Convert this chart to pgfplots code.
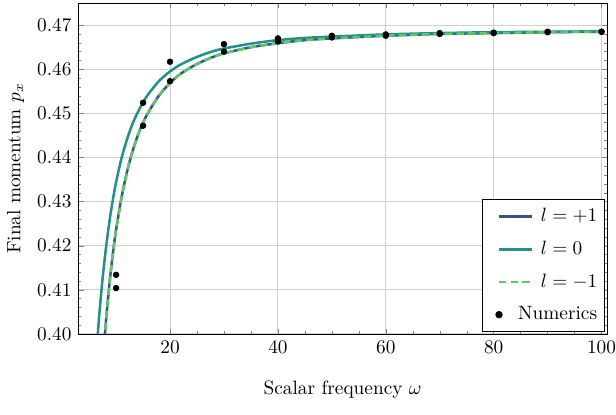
\documentclass[border=0pt]{standalone}
\usepackage{pgfplots}
\pgfplotsset{compat=1.18}
\definecolor{cA}{HTML}{3B528B}
\definecolor{cB}{HTML}{21918C}
\definecolor{cC}{HTML}{5EC962}
\begin{document}
\begin{tikzpicture}
\begin{axis}[name=ax,
  scale only axis, width=274pt, height=171.5pt,
  xmin=3, xmax=101, ymin=0.40, ymax=0.475,
  xtick={20,40,60,80,100}, minor x tick num=3,
  ytick={0.40,0.41,0.42,0.43,0.44,0.45,0.46,0.47}, minor y tick num=4,
  yticklabel style={/pgf/number format/.cd, fixed, precision=2, zerofill},
  scaled y ticks=false,
  tick align=inside, tick pos=both,
  major tick length=2.8pt, minor tick length=1.6pt,
  grid=major, major grid style={line width=0.5pt, draw=black!18},
  xlabel={Scalar frequency $\omega$}, ylabel={Final momentum $p_x$},
  xlabel style={at={(axis description cs:0.5,0)}, anchor=center, yshift=-29pt},
  ylabel style={at={(axis description cs:0,0.5)}, anchor=center, yshift=32.6pt},
  legend style={at={(0.996,0.006)}, anchor=south east, draw=black, line width=0.6pt,
    inner xsep=3.6pt, inner ysep=4.5pt, row sep=8.5pt, column sep=4pt,
    nodes={inner sep=0pt, text depth=0.15em}, fill=white},
  legend cell align=left,
  legend image code/.code={\path (0pt,0pt); \draw[#1] (4.2pt,0pt) -- (21.2pt,0pt);},
]
\addplot[color=cA, line width=1.3pt, smooth] coordinates {
(7.5,0.3931)(8,0.4011)(8.5,0.4080)(9,0.4140)(9.5,0.4191)(10,0.4236)(11,0.4309)(12,0.4366)(13,0.4412)(14,0.4449)(15,0.4479)(16,0.4503)(18,0.4541)(20,0.4569)(22,0.4590)(25,0.4612)(28,0.4628)(30,0.4636)(35,0.4650)(40,0.4659)(45,0.4666)(50,0.4670)(60,0.4676)(70,0.4680)(80,0.4682)(90,0.4684)(100,0.4685)
};
\addlegendentry{$l = +1$}
\addplot[color=cB, line width=1.3pt, smooth] coordinates {
(6.5,0.3984)(7,0.4060)(7.5,0.4126)(8,0.4182)(8.5,0.4231)(9,0.4274)(9.5,0.4311)(10,0.4344)(11,0.4398)(12,0.4440)(13,0.4475)(14,0.4502)(15,0.4525)(16,0.4544)(18,0.4574)(20,0.4595)(22,0.4611)(25,0.4628)(28,0.4641)(30,0.4647)(35,0.4658)(40,0.4666)(45,0.4671)(50,0.4674)(60,0.4679)(70,0.4682)(80,0.4684)(90,0.4685)(100,0.4686)
};
\addlegendentry{$l = 0$}
\addplot[color=cC, line width=1.3pt, smooth, dash pattern=on 3.8pt off 2.2pt] coordinates {
(7.5,0.3931)(8,0.4011)(8.5,0.4080)(9,0.4140)(9.5,0.4191)(10,0.4236)(11,0.4309)(12,0.4366)(13,0.4412)(14,0.4449)(15,0.4479)(16,0.4503)(18,0.4541)(20,0.4569)(22,0.4590)(25,0.4612)(28,0.4628)(30,0.4636)(35,0.4650)(40,0.4659)(45,0.4666)(50,0.4670)(60,0.4676)(70,0.4680)(80,0.4682)(90,0.4684)(100,0.4685)
};
\addlegendentry{$l = -1$}
\addplot[only marks, mark=*, mark size=1.45pt, color=black,
  legend image code/.code={\path (0pt,0pt) (21.2pt,0pt); \fill (4.2pt,0pt) circle (1.6pt);}] coordinates {
(10,0.4134)(10,0.4104)(15,0.4524)(15,0.4472)(20,0.4617)(20,0.4573)(30,0.4657)(30,0.4640)(40,0.4670)(40,0.4663)(50,0.4676)(50,0.4672)(60,0.4679)(60,0.4676)(70,0.4682)(70,0.4680)(80,0.4683)(80,0.4682)(90,0.4685)(90,0.4684)(100,0.4685)(100,0.4685)
};
\addlegendentry{\hspace*{-11.7pt}Numerics}
\end{axis}
\pgfresetboundingbox
\path[use as bounding box] ([shift={(-40.6pt,-41.5pt)}]ax.south west) rectangle ([shift={(4.7pt,1.6pt)}]ax.north east);
\end{tikzpicture}
\end{document}
